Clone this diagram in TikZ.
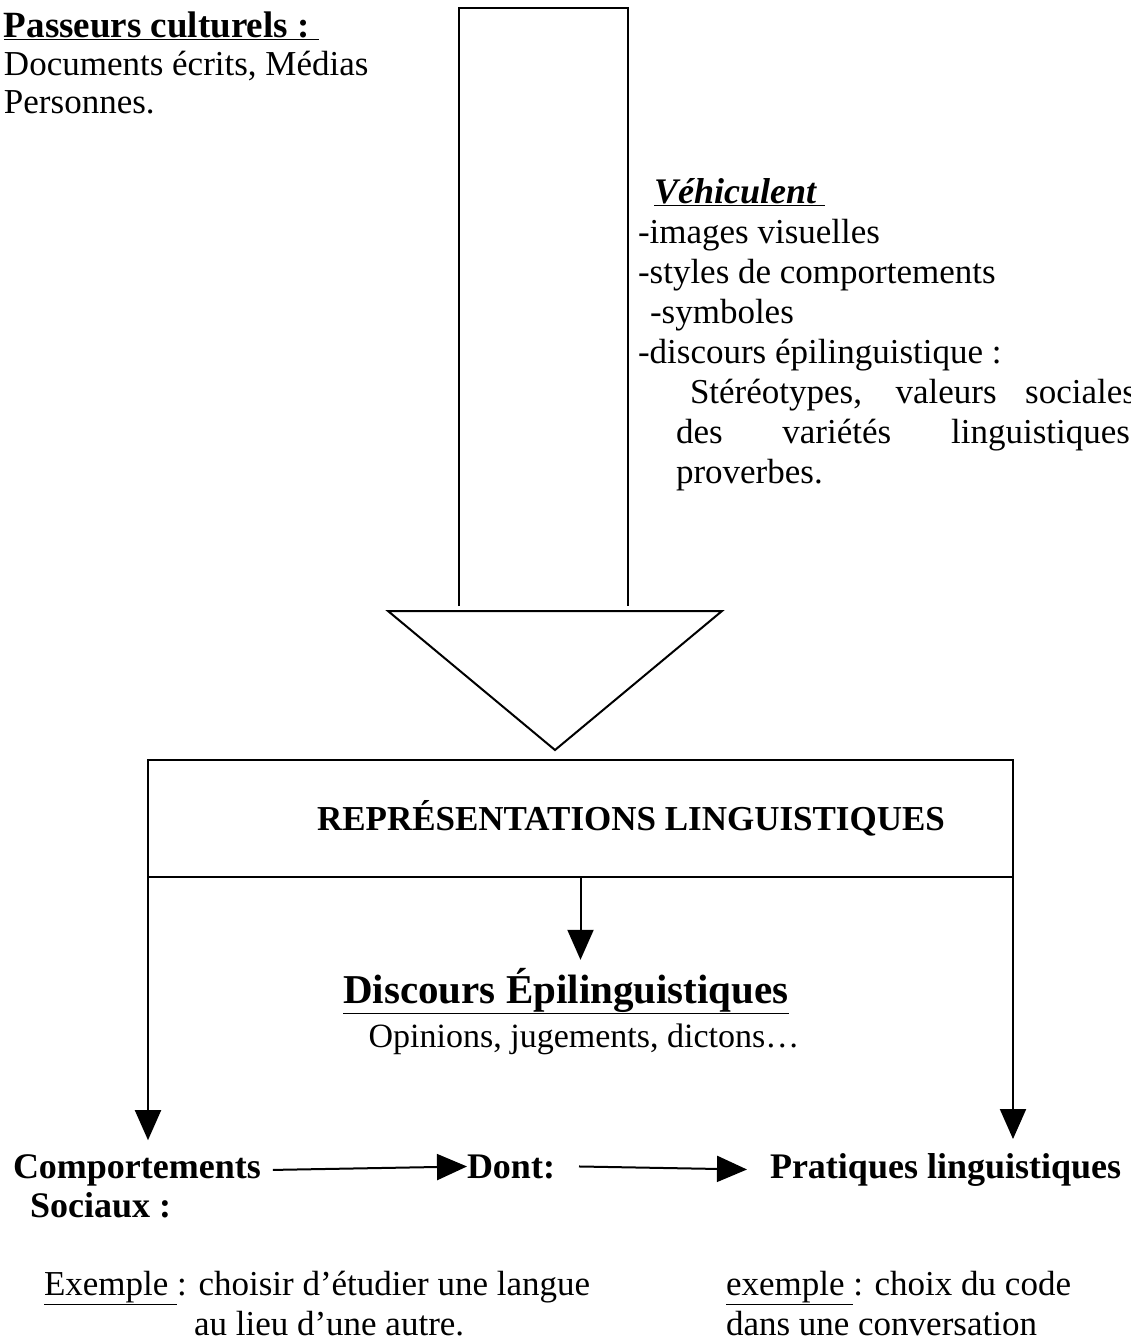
\documentclass[tikz,border=0pt]{standalone}
\usepackage{fontspec}
\setmainfont{Liberation Serif}
\usetikzlibrary{arrows.meta,calc,positioning}

\tikzset{
  every node/.style={inner sep=0pt, outer sep=0pt},
  txt/.style={font=\fontsize{35}{39}\selectfont, align=left},
  lbl/.style={font=\fontsize{36}{40}\selectfont\bfseries},
  link/.style={line width=2pt, -{Triangle[length=30pt,width=26pt]}},
  big/.style={line width=2pt, line join=miter},
}

\begin{document}
\begin{tikzpicture}[x=1pt,y=-1pt]
		\useasboundingbox (0,0) rectangle (1130,1344);
		% passeurs
		\node[txt, anchor=base west, font=\fontsize{37}{39}\selectfont] (pass) at (4,37)
		  {\textbf{\underline{Passeurs culturels :\ }}};
		\node[txt, anchor=base west] (docs) at (4,75) {Documents écrits, Médias};
		\node[txt, anchor=base west] (pers) at (4,113) {Personnes.};
		% big arrow
		\coordinate (sl) at (459,606);
		\coordinate (sr) at (628,606);
		\draw[big] (sl) -- (459,8) -- (628,8) -- (sr);
		\coordinate (tl) at (388,611);
		\coordinate (tr) at (722,611);
		\coordinate (tip) at (555,750);
		\draw[big] (tl) -- (tr) -- (tip) -- cycle;
		% vehiculent
		\node[txt, anchor=north west, font=\fontsize{35}{40}\selectfont] (vehic) at (638,178)
		  {\hspace*{16pt}{\fontsize{36}{40}\selectfont\textbf{\textit{\underline{Véhiculent\ }}}}\\
		   -images visuelles\\
		   -styles de comportements\\
		   \hspace*{12pt}-symboles\\
		   -discours épilinguistique :\\
		   \hspace*{52pt}\makebox[446pt][s]{Stéréotypes, valeurs sociales}\\
		   \hspace*{38pt}\makebox[454pt][s]{des variétés linguistiques}\\
		   \hspace*{38pt}proverbes.};
		% box
		\node[draw, line width=2pt, minimum width=865pt, minimum height=117pt] (rep) at (580.5,818.5) {};
		\node[font=\fontsize{35}{40}\selectfont\bfseries] (title) at (631,818) {REPRÉSENTATIONS LINGUISTIQUES};
		\node[font=\fontsize{41}{46}\selectfont\bfseries, anchor=base] (disc) at (566,1003) {\underline{Discours Épilinguistiques}};
		\node[txt, anchor=base, font=\fontsize{34}{39}\selectfont] (opin) at (584,1047) {Opinions, jugements, dictons…};
		% bottom row
		\node[lbl, anchor=base west] (comp) at (13,1178) {Comportements};
		\node[lbl, anchor=base west] (soc) at (30,1217) {Sociaux :};
		\node[lbl, anchor=base west] (dont) at (467,1178) {Dont:};
		\node[lbl, anchor=base west] (prat) at (770,1178) {Pratiques linguistiques};
		\draw[link] ([xshift=12pt]comp.east) -- (dont.west);
		\draw[link] ([xshift=24pt]dont.east) -- ([xshift=-23pt]prat.west);
		\draw[link] (rep.south west) -- ([yshift=14pt]rep.south west |- comp.north);
		\draw[link] (rep.south east) -- ([yshift=14pt]rep.south east |- prat.north);
		\draw[link] (rep.south) -- ([yshift=8pt]rep.south |- disc.north);
		% examples
		\node[txt, anchor=base west] (ex1) at (44,1295)
		  {\underline{Exemple\ }: choisir d’étudier une langue};
		\node[txt, anchor=base west] (ex1b) at (194,1335) {au lieu d’une autre.};
		\node[txt, anchor=base west] (ex2) at (726,1295) {\underline{exemple\ }: choix du code};
		\node[txt, anchor=base west] (ex2b) at (726,1335) {dans une conversation};
		\end{tikzpicture}
\end{document}
